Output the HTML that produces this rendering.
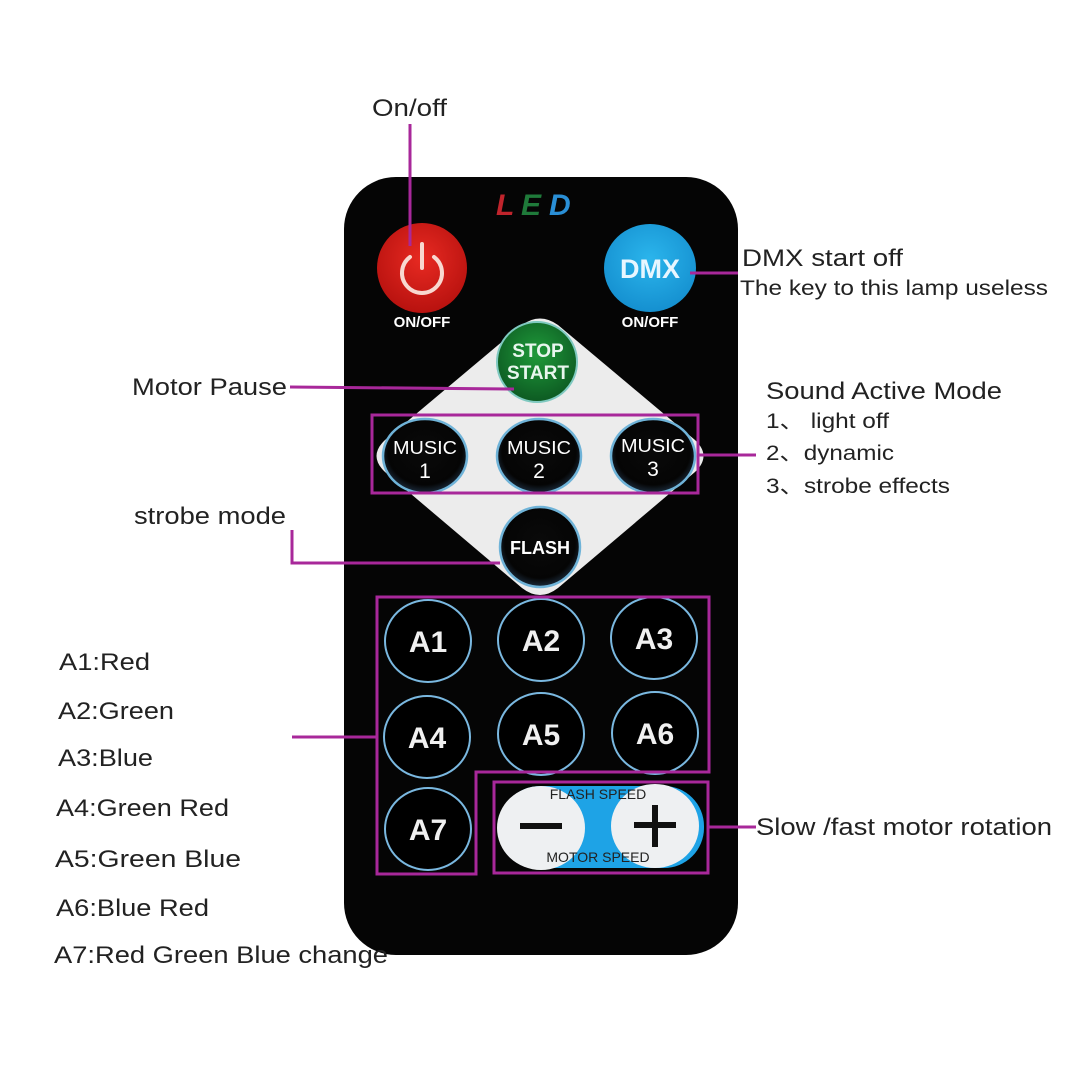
<!DOCTYPE html>
<html><head><meta charset="utf-8"><style>
body{margin:0;background:#fff;}
svg{display:block;}
text{font-family:"Liberation Sans",Arial,sans-serif;}
</style></head><body>
<svg width="1080" height="1080" viewBox="0 0 1080 1080">
<defs>
<radialGradient id="blk" cx="50%" cy="45%" r="55%"><stop offset="0" stop-color="#0a0a0a"/><stop offset="0.8" stop-color="#050505"/><stop offset="1" stop-color="#1b2a3a"/></radialGradient>
<radialGradient id="grn" cx="50%" cy="40%" r="60%"><stop offset="0" stop-color="#1f9a3a"/><stop offset="1" stop-color="#0d5a22"/></radialGradient>
<radialGradient id="red" cx="50%" cy="40%" r="60%"><stop offset="0" stop-color="#e82a22"/><stop offset="1" stop-color="#b8120f"/></radialGradient>
<radialGradient id="blu" cx="50%" cy="40%" r="60%"><stop offset="0" stop-color="#2bb5ec"/><stop offset="1" stop-color="#1590d0"/></radialGradient>
</defs>
<rect x="344" y="177" width="394" height="778" rx="52" fill="#050505"/>
<text x="496" y="215" font-size="30" font-weight="bold" font-style="italic" fill="#c0242c">L</text>
<text x="521" y="215" font-size="30" font-weight="bold" font-style="italic" fill="#1f7a3a">E</text>
<text x="549" y="215" font-size="30" font-weight="bold" font-style="italic" fill="#2a8fd6">D</text>
<circle cx="422" cy="268" r="45" fill="url(#red)"/>
<path d="M410 257 A20 20 0 1 0 434 257" fill="none" stroke="#f8d8d0" stroke-width="4" stroke-linecap="round"/>
<line x1="422" y1="244" x2="422" y2="268" stroke="#f8d8d0" stroke-width="4" stroke-linecap="round"/>
<text x="422" y="327" font-size="15" font-weight="bold" fill="#fff" text-anchor="middle">ON/OFF</text>
<ellipse cx="650" cy="268" rx="46" ry="44" fill="url(#blu)"/>
<text x="650" y="278" font-size="27" font-weight="bold" fill="#e8f6ff" text-anchor="middle">DMX</text>
<text x="650" y="327" font-size="15" font-weight="bold" fill="#fff" text-anchor="middle">ON/OFF</text>
<path d="M522 325 Q540 312 558 325 L695 440 Q712 456 695 472 L558 588 Q540 602 522 588 L385 472 Q368 456 385 440 Z" fill="#ececec"/>
<circle cx="537" cy="362" r="40" fill="url(#grn)" stroke="#7fc9c0" stroke-width="2"/>
<text x="538" y="357" font-size="19" font-weight="bold" fill="#e8f6ee" text-anchor="middle">STOP</text>
<text x="538" y="379" font-size="19" font-weight="bold" fill="#e8f6ee" text-anchor="middle">START</text>
<g fill="url(#blk)" stroke="#6fb3d8" stroke-width="2.5">
<ellipse cx="425" cy="456" rx="42" ry="37"/>
<ellipse cx="539" cy="456" rx="42" ry="37"/>
<ellipse cx="653" cy="456" rx="42" ry="37"/>
<circle cx="540" cy="547" r="40"/>
</g>
<g fill="#fff" font-size="18" text-anchor="middle">
<text x="425" y="454" textLength="64" lengthAdjust="spacingAndGlyphs">MUSIC</text><text x="425" y="478" font-size="21">1</text>
<text x="539" y="454" textLength="64" lengthAdjust="spacingAndGlyphs">MUSIC</text><text x="539" y="478" font-size="21">2</text>
<text x="653" y="452" textLength="64" lengthAdjust="spacingAndGlyphs">MUSIC</text><text x="653" y="476" font-size="21">3</text>
<text x="540" y="554" font-weight="bold">FLASH</text>
</g>
<g fill="#000" stroke="#7ab8e0" stroke-width="2">
<ellipse cx="428" cy="641" rx="43" ry="41"/>
<ellipse cx="541" cy="640" rx="43" ry="41"/>
<ellipse cx="654" cy="638" rx="43" ry="41"/>
<ellipse cx="427" cy="737" rx="43" ry="41"/>
<ellipse cx="541" cy="734" rx="43" ry="41"/>
<ellipse cx="655" cy="733" rx="43" ry="41"/>
<ellipse cx="428" cy="829" rx="43" ry="41"/>
</g>
<g fill="#f0f0f0" font-size="30" font-weight="bold" text-anchor="middle">
<text x="428" y="652">A1</text><text x="541" y="651">A2</text><text x="654" y="649">A3</text>
<text x="427" y="748">A4</text><text x="541" y="745">A5</text><text x="655" y="744">A6</text>
<text x="428" y="840">A7</text>
</g>
<rect x="500" y="786" width="204" height="82" rx="40" fill="#1ea3e6"/>
<ellipse cx="541" cy="828" rx="44" ry="42" fill="#eef0f2"/>
<ellipse cx="655" cy="826" rx="44" ry="42" fill="#eef0f2"/>
<rect x="520" y="823" width="42" height="6" fill="#111"/>
<rect x="634" y="822" width="42" height="6" fill="#111"/>
<rect x="652" y="805" width="6" height="42" fill="#111"/>
<text x="598" y="799" font-size="14" fill="#222" text-anchor="middle">FLASH SPEED</text>
<text x="598" y="862" font-size="14" fill="#222" text-anchor="middle">MOTOR SPEED</text>
<g fill="none" stroke="#a8289a" stroke-width="3">
<line x1="410" y1="124" x2="410" y2="246"/>
<line x1="690" y1="273" x2="738" y2="273"/>
<line x1="290" y1="387" x2="514" y2="389"/>
<rect x="372" y="415" width="326" height="78"/>
<line x1="698" y1="455" x2="756" y2="455"/>
<polyline points="292,530 292,563 500,563"/>
<path d="M377 597 H709 V772 H476 V874 H377 Z"/>
<rect x="494" y="782" width="214" height="91"/>
<line x1="708" y1="827" x2="756" y2="827"/>
<line x1="292" y1="737" x2="378" y2="737"/>
</g>
<g fill="#222" font-size="24">
<text x="372" y="116" textLength="75" lengthAdjust="spacingAndGlyphs">On/off</text>
<text x="742" y="266" textLength="161" lengthAdjust="spacingAndGlyphs">DMX start off</text>
<text x="740" y="295" font-size="21" textLength="308" lengthAdjust="spacingAndGlyphs">The key to this lamp useless</text>
<text x="132" y="395" textLength="155" lengthAdjust="spacingAndGlyphs">Motor Pause</text>
<text x="766" y="399" textLength="236" lengthAdjust="spacingAndGlyphs">Sound Active Mode</text>
<text x="766" y="428" font-size="21" textLength="123" lengthAdjust="spacingAndGlyphs">1、 light off</text>
<text x="766" y="460" font-size="21" textLength="128" lengthAdjust="spacingAndGlyphs">2、dynamic</text>
<text x="766" y="493" font-size="21" textLength="184" lengthAdjust="spacingAndGlyphs">3、strobe effects</text>
<text x="134" y="524" textLength="152" lengthAdjust="spacingAndGlyphs">strobe mode</text>
<text x="756" y="835" textLength="296" lengthAdjust="spacingAndGlyphs">Slow /fast motor rotation</text>
<text x="59" y="670" textLength="91" lengthAdjust="spacingAndGlyphs">A1:Red</text>
<text x="58" y="719" textLength="116" lengthAdjust="spacingAndGlyphs">A2:Green</text>
<text x="58" y="766" textLength="95" lengthAdjust="spacingAndGlyphs">A3:Blue</text>
<text x="56" y="816" textLength="173" lengthAdjust="spacingAndGlyphs">A4:Green Red</text>
<text x="55" y="867" textLength="186" lengthAdjust="spacingAndGlyphs">A5:Green  Blue</text>
<text x="56" y="916" textLength="153" lengthAdjust="spacingAndGlyphs">A6:Blue Red</text>
<text x="54" y="963" textLength="334" lengthAdjust="spacingAndGlyphs">A7:Red Green Blue change</text>
</g>
</svg>
</body></html>
